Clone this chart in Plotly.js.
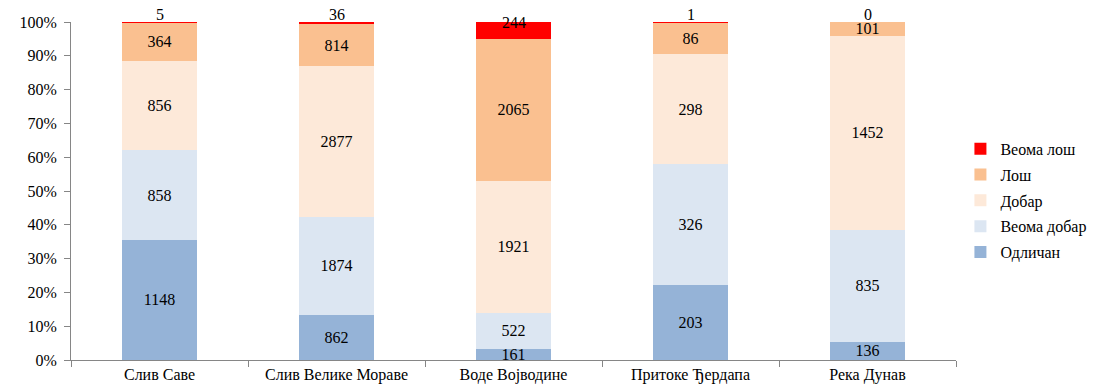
<!DOCTYPE html>
<html><head><meta charset="utf-8">
<script src="https://cdn.plot.ly/plotly-3.0.1.min.js"></script>
<style>body{margin:0;background:#fff}#c{width:1103px;height:387px}</style>
</head><body><div id="c"></div>
<script>
const categories = ["Слив Саве", "Слив Велике Мораве", "Воде Војводине", "Притоке Ђердапа", "Река Дунав"];
const odlican   = [1148, 862, 161, 203, 136];
const veomaDobar = [858, 1874, 522, 326, 835];
const dobar     = [856, 2877, 1921, 298, 1452];
const los       = [364, 814, 2065, 86, 101];
const veomaLos  = [5, 36, 244, 1, 0];
const seriesNames = ["Одличан", "Веома добар", "Добар", "Лош", "Веома лош"];
const colors = ["#95B3D7", "#DCE6F2", "#FDE9D9", "#FAC090", "#FF0000"];
const allSeries = [odlican, veomaDobar, dobar, los, veomaLos];

const font = "Liberation Serif, Times New Roman, serif";
const traces = allSeries.map((vals, i) => ({
  type: "bar", name: seriesNames[i], x: categories, y: vals,
  legendgroup: "g" + i, legendrank: 1000 - i,
  marker: {color: colors[i]},
  text: i < 4 ? vals.map(String) : undefined,
  textposition: i < 4 ? "inside" : "none",
  insidetextanchor: "middle",
  textfont: {family: font, size: 16, color: "#000"},
  hoverinfo: "name+y"
}));

const totals = categories.map((_, j) => allSeries.reduce((s, a) => s + a[j], 0));
const annotations = categories.map((c, j) => {
  const pct = veomaLos[j] / totals[j] * 100;
  return {x: c, y: 100 - pct / 2, text: String(veomaLos[j]), showarrow: false,
    yshift: 8, font: {family: font, size: 16, color: "#000"}};
});

const layout = {
  width: 1103, height: 387,
  margin: {l: 71, r: 142, t: 22, b: 27},
  barmode: "stack", barnorm: "percent", bargap: 0.58,
  paper_bgcolor: "#fff", plot_bgcolor: "#fff",
  font: {family: font, size: 16, color: "#000"},
  uniformtext: {mode: "show", minsize: 16},
  xaxis: {showline: true, linecolor: "#868686", ticks: "outside", tickson: "boundaries",
    ticklen: 6, tickcolor: "#868686", tickfont: {family: font, size: 16}, showgrid: false},
  yaxis: {range: [0, 100], dtick: 10, ticksuffix: "%", showline: true, linecolor: "#868686",
    ticks: "outside", ticklen: 6, tickcolor: "#868686", showgrid: false, zeroline: false,
    ticklabelstandoff: 4, tickfont: {family: font, size: 16}},
  legend: {x: 1.005, y: 0.675, xanchor: "left", yanchor: "top", traceorder: "grouped",
    font: {family: font, size: 16}, itemwidth: 30, tracegroupgap: 2},
  annotations: annotations,
  showlegend: true
};
Plotly.newPlot("c", traces, layout, {displayModeBar: false});
</script></body></html>
